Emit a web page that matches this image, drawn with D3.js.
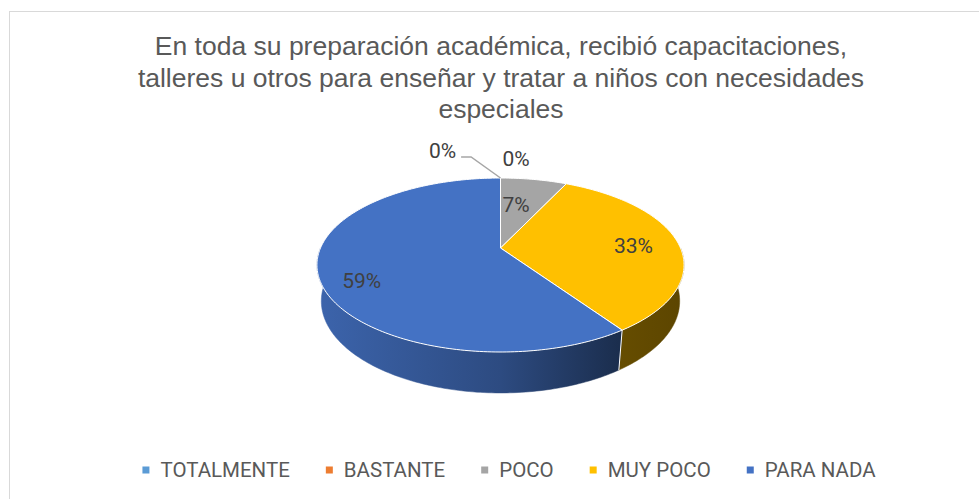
<!DOCTYPE html>
<html>
<head>
<meta charset="utf-8">
<script src="https://cdn.jsdelivr.net/npm/d3@7/dist/d3.min.js"></script>
<style>
  html, body { margin: 0; padding: 0; background: #fff; overflow: hidden; }
</style>
</head>
<body>
<div id="chart"></div>
<script>
// ---- data ------------------------------------------------------------------
const categories = ["TOTALMENTE", "BASTANTE", "POCO", "MUY POCO", "PARA NADA"];
const values = [0, 0, 7, 33, 59]; // percent, as labelled
const colors = ["#5B9BD5", "#ED7D31", "#A5A5A5", "#FFC000", "#4472C4"];
const titleLines = [
  "En toda su preparación académica, recibió capacitaciones,",
  "talleres u otros para enseñar y tratar a niños con necesidades",
  "especiales"
];

// ---- layout ----------------------------------------------------------------
const W = 979, H = 499;
const TITLE_FONT = "26.5px 'Liberation Sans', Arial, sans-serif";
const LABEL_FONT = "21px Roboto, 'Liberation Sans', sans-serif";
const LEGEND_FONT = "20.5px Roboto, 'Liberation Sans', sans-serif";
// nudges (px) applied to the computed label anchors, per category
const labelShift = [[-58, -27], [15.5, -19], [-10.5, 10.5], [0, 3], [-4, 13.5]];

// 3D pie: unit-radius cylinder seen through a perspective camera
const CX = 500.5, CY = 248;
const TILT = 27.7 * Math.PI / 180;
const DIST = 4.53, FOCAL = 815.4, THICK = 0.228;
const sA = Math.sin(TILT), cA = Math.cos(TILT);
function project(theta, r, w) {
  const u = r * Math.sin(theta), v = r * Math.cos(theta);
  const sy = v * sA + w * cA;
  const depth = v * cA - w * sA;
  const k = FOCAL / (DIST + depth);
  return [CX + u * k, CY - sy * k];
}
const arcPts = (a0, a1, r, w) => {
  const n = Math.max(2, Math.ceil((a1 - a0) / (Math.PI / 180)));
  return d3.range(n + 1).map((i) => project(a0 + (a1 - a0) * i / n, r, w));
};

const svg = d3.select("#chart").append("svg")
  .attr("width", W).attr("height", H)
  .style("display", "block");

svg.append("rect").attr("width", W).attr("height", H).attr("fill", "#fff");
svg.append("rect")
  .attr("x", 9.5).attr("y", 11.5).attr("width", W + 20).attr("height", H + 20)
  .attr("fill", "none").attr("stroke", "#d9d9d9").attr("stroke-width", 1);

// title
svg.append("g").selectAll("text").data(titleLines).join("text")
  .attr("x", 501).attr("y", (d, i) => 55 + i * 31.5)
  .attr("text-anchor", "middle")
  .attr("fill", "#595959")
  .style("font", TITLE_FONT)
  .text((d) => d);

// pie geometry
const arcs = d3.pie().sort(null).value((d) => d)(values)
  .map((a, i) => ({ ...a, i, name: categories[i], color: colors[i] }));
const line = d3.line();

// wall shading: horizontal gradient, lit from the left
const defs = svg.append("defs");
const shade = [[0, 0.88], [0.5, 0.66], [0.82, 0.40], [1, 0.36]];
arcs.forEach((a) => {
  const g = defs.append("linearGradient")
    .attr("id", "wall" + a.i)
    .attr("gradientUnits", "userSpaceOnUse")
    .attr("x1", CX - 184).attr("x2", CX + 184).attr("y1", 0).attr("y2", 0);
  shade.forEach(([o, k]) => {
    g.append("stop").attr("offset", o)
      .attr("stop-color", d3.interpolateRgb("#000", a.color)(k));
  });
});

const FRONT0 = Math.PI / 2, FRONT1 = 3 * Math.PI / 2;
const walls = arcs
  .filter((a) => a.value > 0 && a.endAngle > FRONT0 && a.startAngle < FRONT1)
  .map((a) => {
    const t0 = Math.max(a.startAngle, FRONT0), t1 = Math.min(a.endAngle, FRONT1);
    const top = arcPts(t0, t1, 1, 0), bot = arcPts(t0, t1, 1, -THICK).reverse();
    return { ...a, pts: top.concat(bot) };
  });

svg.append("g").selectAll("path").data(walls).join("path")
  .attr("d", (d) => line(d.pts) + "Z")
  .attr("fill", (d) => `url(#wall${d.i})`)
  .attr("stroke", (d) => `url(#wall${d.i})`)
  .attr("stroke-width", 0.5);

// white seams between walls
const seams = arcs.filter((a) => a.value > 0 && a.startAngle > FRONT0 && a.startAngle < FRONT1);
svg.append("g").selectAll("path").data(seams).join("path")
  .attr("d", (d) => line([project(d.startAngle, 1, 0), project(d.startAngle, 1, -THICK)]))
  .attr("stroke", "#fff").attr("stroke-width", 1).attr("fill", "none");

// top faces
svg.append("g").selectAll("path").data(arcs.filter((a) => a.value > 0)).join("path")
  .attr("d", (d) => line([project(0, 0, 0)].concat(arcPts(d.startAngle, d.endAngle, 1, 0))) + "Z")
  .attr("fill", (d) => d.color)
  .attr("stroke", "#fff").attr("stroke-width", 1).attr("stroke-linejoin", "round");

// data labels
const labels = arcs.map((a) => {
  let p;
  if (a.value > 0) p = project((a.startAngle + a.endAngle) / 2, 0.75, 0);
  else p = project(a.startAngle, 1, 0);
  const s = labelShift[a.i];
  return { ...a, edge: project(a.startAngle, 1, 0), x: p[0] + s[0], y: p[1] + s[1] };
});
const lblG = svg.append("g");
const lblText = lblG.selectAll("text").data(labels).join("text")
  .attr("x", (d) => d.x).attr("y", (d) => d.y)
  .attr("text-anchor", "middle").attr("dominant-baseline", "central")
  .attr("fill", "#404040")
  .style("font", LABEL_FONT)
  .text((d) => d.value + "%");

// leader line for the displaced zero label
lblText.each(function (d, i) {
  if (i !== 0) return;
  const bb = this.getBBox();
  const x0 = bb.x + bb.width + 5, y0 = d.y + 6;
  lblG.append("path")
    .attr("d", line([[x0, y0], [x0 + 10, y0], d.edge]))
    .attr("fill", "none").attr("stroke", "#a6a6a6").attr("stroke-width", 1.5);
});

// legend
const LEG_CX = 509, LEG_Y = 470, MARK = 7, MARK_GAP = 11, ITEM_GAP = 36;
const leg = svg.append("g");
const items = leg.selectAll("g").data(categories).join("g");
items.append("rect")
  .attr("width", MARK).attr("height", MARK)
  .attr("y", LEG_Y - MARK / 2)
  .attr("fill", (d, i) => colors[i]);
items.append("text")
  .attr("y", LEG_Y)
  .attr("dominant-baseline", "central")
  .attr("fill", "#595959")
  .style("font", LEGEND_FONT)
  .text((d) => d);
const widths = [];
items.select("text").each(function () { widths.push(this.getComputedTextLength()); });
const total = d3.sum(widths) + categories.length * (MARK + MARK_GAP) + (categories.length - 1) * ITEM_GAP;
let xCur = LEG_CX - total / 2;
items.each(function (d, i) {
  d3.select(this).attr("transform", `translate(${xCur},0)`);
  d3.select(this).select("text").attr("x", MARK + MARK_GAP);
  xCur += MARK + MARK_GAP + widths[i] + ITEM_GAP;
});
</script>
</body>
</html>
